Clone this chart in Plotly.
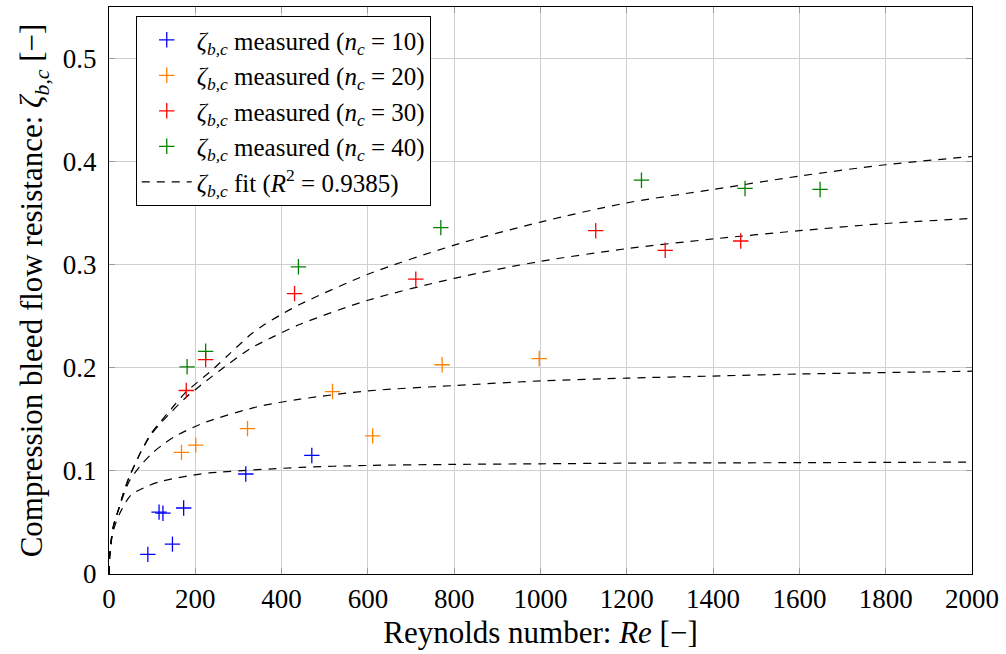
import plotly.graph_objects as go

# Measured data (Re, zeta_b,c)
re_n10 = [90, 116, 125, 147, 173, 317, 470]
zeta_n10 = [0.019, 0.060, 0.059, 0.029, 0.064, 0.097, 0.115]

re_n20 = [168, 201, 321, 518, 611, 772, 997]
zeta_n20 = [0.118, 0.125, 0.141, 0.177, 0.134, 0.203, 0.209]

re_n30 = [179, 224, 430, 711, 1128, 1289, 1464]
zeta_n30 = [0.178, 0.208, 0.272, 0.286, 0.333, 0.314, 0.323]

re_n40 = [181, 224, 439, 769, 1234, 1474, 1648]
zeta_n40 = [0.201, 0.216, 0.298, 0.336, 0.382, 0.374, 0.373]

# Fit curves
fit1_re = [0, 2, 10, 24, 51, 86, 117, 155, 194, 232, 443, 600, 800, 1000, 1200, 1400, 1600, 1800, 2000]
fit1_z = [0, 0.02, 0.042, 0.058, 0.0766, 0.0846, 0.0895, 0.0930, 0.0958, 0.0980, 0.1034, 0.1053, 0.1063,
          0.1069, 0.1075, 0.1078, 0.108, 0.1083, 0.1085]

fit2_re = [0, 2, 10, 24, 47, 74, 101, 128, 155, 194, 225, 342, 443, 600, 800, 1000, 1200, 1400, 1600, 1800, 2000]
fit2_z = [0, 0.02, 0.046, 0.065, 0.09, 0.1056, 0.1175, 0.1265, 0.1340, 0.1420, 0.1475, 0.162, 0.1696, 0.1776,
          0.1828, 0.1873, 0.190, 0.192, 0.194, 0.1954, 0.1967]

fit3_re = [0, 2, 10, 24, 32, 47, 63, 74, 97, 120, 144, 175, 226, 257, 327, 380, 443, 600, 800, 1000, 1200,
           1400, 1600, 1800, 2000]
fit3_z = [0, 0.02, 0.046, 0.065, 0.0766, 0.0943, 0.109, 0.1185, 0.135, 0.1465, 0.157, 0.170, 0.1875, 0.1975,
          0.2185, 0.230, 0.2422, 0.2655, 0.2868, 0.3033, 0.3156, 0.325, 0.333, 0.340, 0.345]

fit4_re = [0, 2, 10, 24, 32, 47, 63, 74, 97, 120, 144, 175, 242, 280, 331, 362, 396, 443, 600, 800, 1000,
           1200, 1400, 1600, 1800, 2000]
fit4_z = [0, 0.02, 0.046, 0.065, 0.0766, 0.0943, 0.109, 0.1185, 0.136, 0.148, 0.16, 0.175, 0.1990, 0.2138,
          0.2332, 0.2424, 0.2509, 0.2616, 0.2907, 0.319, 0.3414, 0.360, 0.373, 0.386, 0.397, 0.405]

x_ticks = [0, 200, 400, 600, 800, 1000, 1200, 1400, 1600, 1800, 2000]
y_ticks = [0, 0.1, 0.2, 0.3, 0.4, 0.5]
y_tick_labels = ["0", "0.1", "0.2", "0.3", "0.4", "0.5"]

ZETA = "<i>ζ</i><sub><i>b,c</i></sub>"

series = [
    (re_n10, zeta_n10, "#0000ff", "10"),
    (re_n20, zeta_n20, "#ff8000", "20"),
    (re_n30, zeta_n30, "#ff0000", "30"),
    (re_n40, zeta_n40, "#008000", "40"),
]

fig = go.Figure()

fits = [(fit1_re, fit1_z), (fit2_re, fit2_z), (fit3_re, fit3_z), (fit4_re, fit4_z)]
for i, (fx, fy) in enumerate(fits):
    fig.add_trace(go.Scatter(
        x=fx, y=fy, mode="lines",
        line=dict(color="black", width=1.2, dash="8px,7px", shape="spline", smoothing=0.8),
        name=f"{ZETA} fit (<i>R</i><sup>2</sup> = 0.9385)",
        showlegend=(i == 0), legendrank=5, hoverinfo="skip",
    ))

for k, (xs, ys, col, n) in enumerate(series):
    fig.add_trace(go.Scatter(
        x=xs, y=ys, mode="markers",
        marker=dict(symbol="cross-thin", size=11, line=dict(color=col, width=1.3)),
        name=f"{ZETA} measured (<i>n</i><sub><i>c</i></sub> = {n})",
        legendrank=k + 1,
    ))

font_family = "Liberation Serif, DejaVu Serif, serif"

fig.update_layout(
    width=1006, height=654,
    margin=dict(l=109, r=34, t=7, b=80),
    paper_bgcolor="white", plot_bgcolor="white",
    font=dict(family=font_family, size=28, color="black"),
    showlegend=True,
    legend=dict(
        x=0.031, y=0.984, xanchor="left", yanchor="top",
        bgcolor="white", bordercolor="black", borderwidth=1,
        font=dict(family=font_family, size=25, color="black"),
        itemwidth=50, tracegroupgap=0,
    ),
    xaxis=dict(
        range=[0, 2000], tickmode="array", tickvals=x_ticks,
        showgrid=True, gridcolor="#cfcfcf", gridwidth=1,
        showline=True, linecolor="black", linewidth=1.2, mirror="ticks",
        ticks="inside", ticklen=6, tickcolor="#9a9a9a", zeroline=False,
        tickfont=dict(size=27),
        title=dict(text="Reynolds number: <i>Re</i> [−]", font=dict(size=31), standoff=8),
    ),
    yaxis=dict(
        range=[0, 0.55], tickmode="array", tickvals=y_ticks, ticktext=y_tick_labels,
        showgrid=True, gridcolor="#cfcfcf", gridwidth=1,
        showline=True, linecolor="black", linewidth=1.2, mirror="ticks",
        ticks="inside", ticklen=6, tickcolor="#9a9a9a", zeroline=False,
        tickfont=dict(size=27), ticklabelstandoff=6,
        title=dict(text=f"Compression bleed flow resistance: {ZETA} [−]", font=dict(size=31), standoff=10),
    ),
)

fig.write_html("out.html", config={"displayModeBar": False},
               post_script="document.body.style.margin='0';")
